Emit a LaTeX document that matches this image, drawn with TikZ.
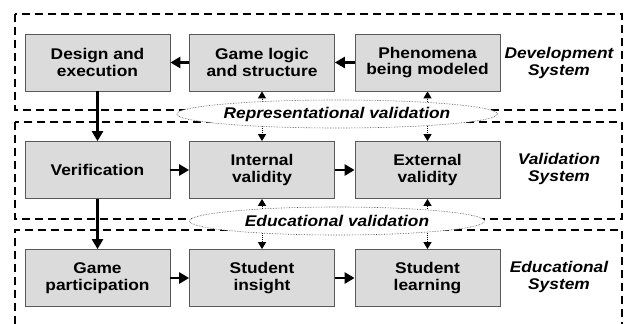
\documentclass[tikz,border=0pt]{standalone}
\usepackage{fontspec}
\setmainfont{Liberation Sans}[FakeStretch=1.12]
\usetikzlibrary{arrows.meta}
\usetikzlibrary{shapes.geometric}
\usetikzlibrary{backgrounds}

\begin{document}
\begin{tikzpicture}[x=1pt, y=-1pt,
    every node/.style={font=\fontsize{15.5}{16.5}\selectfont\bfseries, align=center},
    block/.style={draw=black!65, fill=black!14, line width=0.8pt, minimum width=145pt, minimum height=57pt, inner sep=0pt},
    frame/.style={line width=2pt, dash pattern=on 8pt off 5pt},
    bubble/.style={ellipse, draw=black!70, densely dotted, line width=0.6pt, fill=white, minimum width=295pt, minimum height=28pt, inner sep=0pt, font=\fontsize{15.5}{16.5}\selectfont\bfseries\itshape},
    syslabel/.style={font=\fontsize{15.5}{16.5}\selectfont\bfseries\itshape},
    flow/.style={line width=2.8pt, -{Triangle[length=10pt,width=11pt]}},
    link/.style={densely dotted, line width=1pt, -{Triangle[length=7pt,width=8pt]}}]

    \useasboundingbox (0,0) rectangle (624,324);

    % Dashed frames round the three systems
    \draw[frame] (15,14) rectangle (622,110);
    \draw[frame] (15,122) rectangle (622,219);
    \draw[frame] (15,324) -- (15,230) -- (622,230) -- (622,324);

    % Development system
    \node[block] (design) at (97.5,62.5) {Design and\\execution};
    \node[block] (logic) at (262,62.5) {Game logic\\and structure};
    \node[block] (phen) at (427.5,62.5) {Phenomena\\being modeled};
    \node[syslabel] (devsys) at (559,63) {Development\\System};

    % Validation system
    \node[block] (verif) at (97.5,170) {Verification};
    \node[block] (internal) at (262,170) {Internal\\validity};
    \node[block] (external) at (427.5,170) {External\\validity};
    \node[syslabel] (valsys) at (559,169) {Validation\\System};

    % Educational system
    \node[block] (play) at (97.5,278) {Game\\participation};
    \node[block] (insight) at (262,278) {Student\\insight};
    \node[block] (learning) at (427.5,278) {Student\\learning};
    \node[syslabel] (edusys) at (559,277) {Educational\\System};

    % Validation bubbles between the frames
    \node[bubble] (repval) at (337,114) {Representational validation};
    \node[bubble] (eduval) at (337,221) {Educational validation};

    % Main flow
    \draw[flow] (logic) -- (design);
    \draw[flow] (phen) -- (logic);
    \draw[flow] (design) -- (verif);
    \draw[flow] (verif) -- (play);
    \draw[flow] (verif) -- (internal);
    \draw[flow] (internal) -- (external);
    \draw[flow] (play) -- (insight);
    \draw[flow] (insight) -- (learning);

    % Links out of the bubbles (shafts start under the white fill)
    \begin{scope}[on background layer]
      \draw[link] (logic.south |- repval.center) -- (logic.south);
      \draw[link] (phen.south |- repval.center) -- (phen.south);
      \draw[link] (internal.north |- repval.center) -- (internal.north);
      \draw[link] (external.north |- repval.center) -- (external.north);
      \draw[link] (internal.south |- eduval.center) -- (internal.south);
      \draw[link] (external.south |- eduval.center) -- (external.south);
      \draw[link] (insight.north |- eduval.center) -- (insight.north);
      \draw[link] (learning.north |- eduval.center) -- (learning.north);
    \end{scope}

\end{tikzpicture}
\end{document}
